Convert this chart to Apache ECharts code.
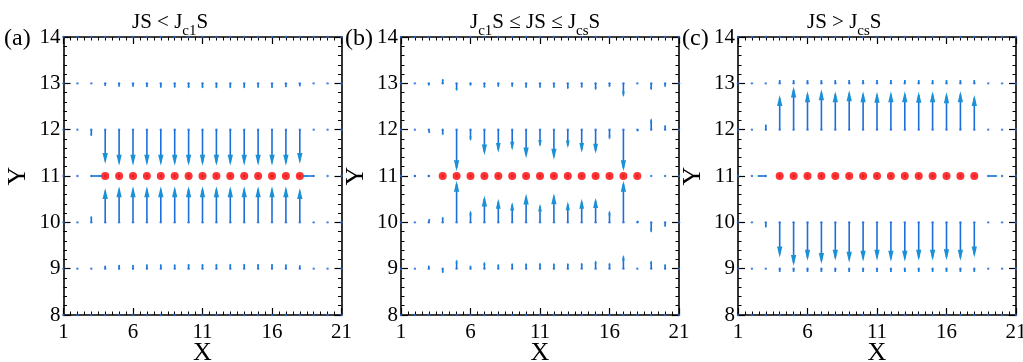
<!DOCTYPE html>
<html><head><meta charset="utf-8">
<script src="https://cdn.jsdelivr.net/npm/echarts@6/dist/echarts.min.js"></script>
<style>html,body{margin:0;padding:0;background:#fff}#c{width:1023px;height:362px}</style>
</head><body><div id="c"></div>
<script>
// ---------------- data ----------------
const gridX = [1,2,3,4,5,6,7,8,9,10,11,12,13,14,15,16,17,18,19,20,21];
const gridY = [8,9,10,11,12,13,14];
const xTickLabels = ['1','6','11','16','21'];
const yTickLabels = ['8','9','10','11','12','13','14'];
const spinX = [4,5,6,7,8,9,10,11,12,13,14,15,16,17,18];
const spinY = [11,11,11,11,11,11,11,11,11,11,11,11,11,11,11];
const panelLabels = ['(a)','(b)','(c)'];
const panelTitles = [
  '{m|JS < J}{s|c1}{m|S}',
  '{m|J}{s|c1}{m|S ≤ JS ≤ J}{s|cs}{m|S}',
  '{m|JS > J}{s|cs}{m|S}'
];
// vectors [x, y, u, v]
const vecA = [
  [4,13,0,-0.06],[5,13,0,-0.08],[6,13,0,-0.08],[7,13,0,-0.09],[8,13,0,-0.1],[9,13,0,-0.1],[10,13,0,-0.11],[11,13,0,-0.11],[12,13,0,-0.11],[13,13,0,-0.11],[14,13,0,-0.11],[15,13,0,-0.1],[16,13,0,-0.11],[17,13,0,-0.09],[18,13,0,-0.07],
  [3,12,0,-0.15],[4,12,0,-0.74],[5,12,0,-0.78],[6,12,0,-0.78],[7,12,0,-0.78],[8,12,0,-0.78],[9,12,0,-0.78],[10,12,0,-0.78],[11,12,0,-0.78],[12,12,0,-0.78],[13,12,0,-0.78],[14,12,0,-0.78],[15,12,0,-0.78],[16,12,0,-0.78],[17,12,0,-0.78],[18,12,0,-0.74],
  [3,11,0.85,0],[19,11,-0.85,0],
  [3,10,0,0.14],[4,10,0,0.74],[5,10,0,0.78],[6,10,0,0.78],[7,10,0,0.78],[8,10,0,0.78],[9,10,0,0.78],[10,10,0,0.78],[11,10,0,0.78],[12,10,0,0.78],[13,10,0,0.78],[14,10,0,0.78],[15,10,0,0.78],[16,10,0,0.78],[17,10,0,0.78],[18,10,0,0.74],
  [4,9,0,0.07],[5,9,0,0.09],[6,9,0,0.09],[7,9,0,0.1],[8,9,0,0.1],[9,9,0,0.1],[10,9,0,0.11],[11,9,0,0.11],[12,9,0,0.11],[13,9,0,0.11],[14,9,0,0.11],[15,9,0,0.11],[16,9,0,0.11],[17,9,0,0.1],[18,9,0,0.08]
];
const vecB = [
  [3,13,0,-0.05],[4,13,0,0.1],[5,13,0,-0.17],[6,13,0,-0.05],[7,13,0,-0.1],[8,13,0,-0.08],[9,13,0,-0.08],[10,13,0,-0.1],[11,13,0,-0.1],[12,13,0,-0.1],[13,13,0,-0.13],[14,13,0,-0.1],[15,13,0,-0.15],[16,13,0,-0.08],[17,13,0,-0.3],[19,13,0,-0.15],[20,13,0,-0.08],
  [3,12,0.05,-0.08],[4,12,0,-0.12],[5,12,0,-0.9],[6,12,0,-0.25],[7,12,0,-0.55],[8,12,0,-0.5],[9,12,0,-0.45],[10,12,0,-0.62],[11,12,0,-0.38],[12,12,0,-0.65],[13,12,0,-0.4],[14,12,0,-0.5],[15,12,0,-0.52],[16,12,0,-0.22],[17,12,0,-0.9],[18,12,0.08,-0.03],[19,12,0,0.25],[20,12,0,0.1],
  [2,11,-0.08,0],[3,11,-0.08,0],
  [3,10,0.05,0.08],[4,10,0,0.12],[5,10,0,0.9],[6,10,0,0.26],[7,10,0,0.58],[8,10,0,0.51],[9,10,0,0.44],[10,10,0,0.62],[11,10,0,0.4],[12,10,0,0.63],[13,10,0,0.45],[14,10,0,0.51],[15,10,0,0.53],[16,10,0,0.26],[17,10,0,0.9],[18,10,0.08,0.03],[19,10,0,-0.23],[20,10,0,-0.1],
  [3,9,0,0.07],[4,9,0,-0.1],[5,9,0,0.2],[6,9,0,0.07],[7,9,0,0.15],[8,9,0,0.1],[9,9,0,0.12],[10,9,0,0.12],[11,9,0,0.13],[12,9,0,0.12],[13,9,0,0.12],[14,9,0,0.13],[15,9,0,0.18],[16,9,0,0.13],[17,9,0,0.3],[19,9,0,0.18],[20,9,0,0.1]
];
const vecC = [
  [4,13,0,0.08],[5,13,0,0.08],[6,13,0,0.08],[7,13,0,0.08],[8,13,0,0.08],[9,13,0,0.08],[10,13,0,0.08],[11,13,0,0.08],[12,13,0,0.08],[13,13,0,0.08],[14,13,0,0.08],[15,13,0,0.08],[16,13,0,0.08],[17,13,0,0.08],[18,13,0,0.08],
  [3,12,0,0.12],[4,12,0,0.75],[5,12,0,0.93],[6,12,0,0.83],[7,12,0,0.87],[8,12,0,0.83],[9,12,0,0.85],[10,12,0,0.83],[11,12,0,0.82],[12,12,0,0.83],[13,12,0,0.83],[14,12,0,0.82],[15,12,0,0.83],[16,12,0,0.81],[17,12,0,0.83],[18,12,0,0.75],
  [3,11,-0.65,0],[19,11,0.7,0],
  [3,10,0,-0.12],[4,10,0,-0.76],[5,10,0,-0.94],[6,10,0,-0.83],[7,10,0,-0.9],[8,10,0,-0.83],[9,10,0,-0.87],[10,10,0,-0.85],[11,10,0,-0.83],[12,10,0,-0.85],[13,10,0,-0.85],[14,10,0,-0.83],[15,10,0,-0.83],[16,10,0,-0.82],[17,10,0,-0.83],[18,10,0,-0.76],
  [4,9,0,-0.08],[5,9,0,-0.08],[6,9,0,-0.08],[7,9,0,-0.08],[8,9,0,-0.08],[9,9,0,-0.08],[10,9,0,-0.08],[11,9,0,-0.08],[12,9,0,-0.08],[13,9,0,-0.08],[14,9,0,-0.08],[15,9,0,-0.08],[16,9,0,-0.08],[17,9,0,-0.08],[18,9,0,-0.08]
];
const panelVectors = [vecA, vecB, vecC];

// ---------------- layout / style ----------------
const FONT = '"Liberation Serif", "Times New Roman", serif';
const LINE = '#1b6fd8';
const HEAD = '#1a90d6';
const DOT = '#2166e0';
const gridLefts = [63.5, 401, 738];
const gridTop = 37, gridW = 278, gridH = 278;
const titleLefts = [132, 470, 807];
const labelLefts = [4, 345, 682];

const lattice = [];
gridX.forEach(x => gridY.forEach(y => lattice.push([x, y])));
const spins = spinX.map((x, i) => [x, spinY[i]]);

function renderArrow(params, api) {
  const x = api.value(0), y = api.value(1), u = api.value(2), v = api.value(3);
  const p0 = api.coord([x, y]), p1 = api.coord([x + u, y + v]);
  const dx = p1[0] - p0[0], dy = p1[1] - p0[1];
  const len = Math.hypot(dx, dy);
  if (len < 1.2) return {type: 'circle', shape: {cx: p0[0], cy: p0[1], r: 1.1}, style: {fill: DOT}};
  const ux = dx / len, uy = dy / len;
  const hl = Math.min(11, len * 0.42), hw = Math.max(1.1, hl * 0.24);
  const bx = p1[0] - ux * hl, by = p1[1] - uy * hl;
  return {type: 'group', children: [
    {type: 'line', shape: {x1: p0[0], y1: p0[1], x2: p1[0] - ux * hl * 0.3, y2: p1[1] - uy * hl * 0.3}, style: {stroke: LINE, lineWidth: 1.6}},
    {type: 'polygon', shape: {points: [[p1[0], p1[1]], [bx - uy * hw, by + ux * hw], [bx + uy * hw, by - ux * hw]]}, style: {fill: HEAD}}
  ]};
}

const grids = [], xAxes = [], yAxes = [], series = [], titles = [], graphics = [];
const tickStyle = {inside: true, length: 7, lineStyle: {color: '#000', width: 1.2}};
const axisLine = {show: true, onZero: false, lineStyle: {color: '#000', width: 1.6}};
const labelStyle = {color: '#000', fontFamily: FONT, fontSize: 21};

for (let i = 0; i < 3; i++) {
  grids.push({left: gridLefts[i], top: gridTop, width: gridW, height: gridH, containLabel: false, outerBoundsMode: 'none'});
  const xBase = {type: 'value', gridIndex: i, min: gridX[0], max: gridX[gridX.length - 1], interval: 5,
    axisLine, axisTick: tickStyle, splitLine: {show: false},
    minorTick: {show: true, splitNumber: 10, length: 3.5, lineStyle: {color: '#000', width: 1}}};
  xAxes.push(Object.assign({}, xBase, {position: 'bottom',
    axisLabel: Object.assign({margin: 7, formatter: v => xTickLabels[xTickLabels.indexOf(String(v))] || String(v)}, labelStyle),
    name: 'X', nameLocation: 'middle', nameGap: 25, nameMoveOverlap: false,
    nameTextStyle: {color: '#000', fontFamily: FONT, fontSize: 26}}));
  xAxes.push(Object.assign({}, xBase, {position: 'top', axisLabel: {show: false}}));
  const yBase = {type: 'value', gridIndex: i, min: gridY[0], max: gridY[gridY.length - 1], interval: 1,
    axisLine, axisTick: tickStyle, splitLine: {show: false},
    minorTick: {show: true, splitNumber: 5, length: 3.5, lineStyle: {color: '#000', width: 1}}};
  yAxes.push(Object.assign({}, yBase, {position: 'left',
    axisLabel: Object.assign({margin: 3, formatter: v => yTickLabels[yTickLabels.indexOf(String(v))] || String(v)}, labelStyle),
    name: 'Y', nameLocation: 'middle', nameGap: 32, nameRotate: 90, nameMoveOverlap: false,
    nameTextStyle: {color: '#000', fontFamily: FONT, fontSize: 26}}));
  yAxes.push(Object.assign({}, yBase, {position: 'right', axisLabel: {show: false}}));

  series.push({type: 'scatter', xAxisIndex: 2 * i, yAxisIndex: 2 * i, data: lattice,
    symbolSize: 2.4, itemStyle: {color: DOT}, clip: false, silent: true, z: 2});
  series.push({type: 'custom', xAxisIndex: 2 * i, yAxisIndex: 2 * i, data: panelVectors[i],
    renderItem: renderArrow, clip: false, silent: true, z: 3});
  series.push({type: 'scatter', xAxisIndex: 2 * i, yAxisIndex: 2 * i, data: spins,
    symbolSize: 8, itemStyle: {color: '#ff0000'}, clip: false, silent: true, z: 4});

  titles.push({text: panelTitles[i], left: titleLefts[i], top: 5, padding: 0,
    textStyle: {fontWeight: 'normal', rich: {
      m: {fontFamily: FONT, fontSize: 21, fontWeight: 'normal', color: '#000'},
      s: {fontFamily: FONT, fontSize: 15, fontWeight: 'normal', color: '#000', padding: [19, 0, 0, 0]}
    }}});
  graphics.push({type: 'text', left: labelLefts[i], top: 27,
    style: {text: panelLabels[i], fill: '#000', font: '24px ' + FONT}});
}

const chart = echarts.init(document.getElementById('c'), null, {renderer: 'canvas'});
chart.setOption({
  animation: false,
  backgroundColor: '#fff',
  title: titles,
  grid: grids,
  xAxis: xAxes,
  yAxis: yAxes,
  series: series,
  graphic: graphics
});
</script>
</body></html>
